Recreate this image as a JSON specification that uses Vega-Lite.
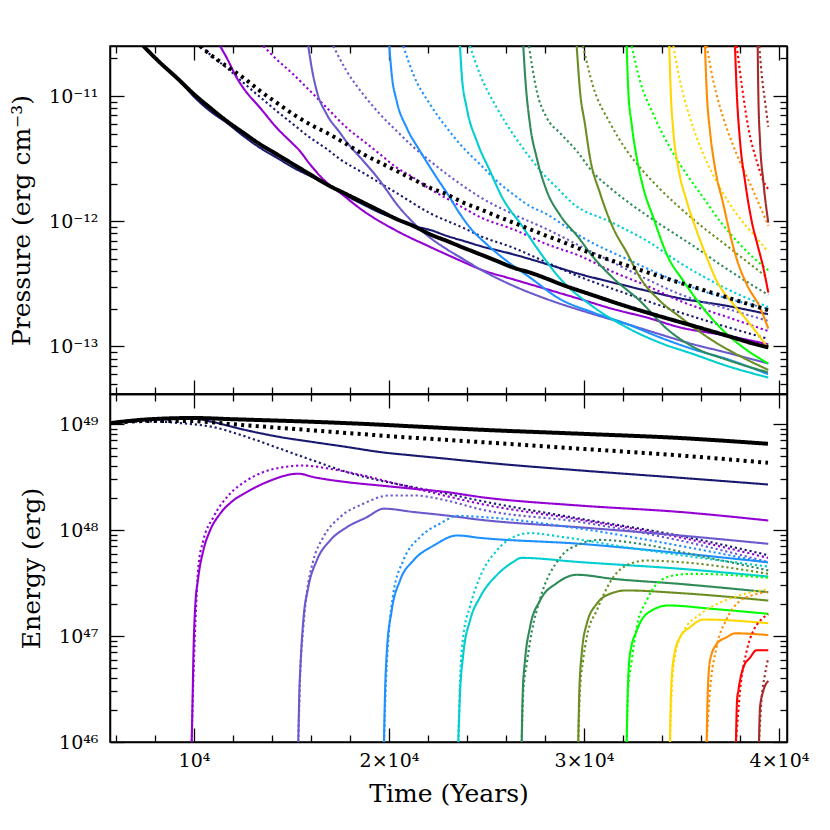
{
"$schema": "https://vega.github.io/schema/vega-lite/v6.json",
"background": "white",
"padding": {"left": 8, "top": 44, "right": 5, "bottom": 5},
"spacing": 0,
"bounds": "flush",
"config": {
 "view": {"stroke": "black", "strokeWidth": 1.5},
 "axis": {"domainColor": "black", "domainWidth": 1.5, "tickColor": "black", "tickWidth": 1.3, "labelFont": "DejaVu Serif", "titleFont": "DejaVu Serif", "labelColor": "black", "titleColor": "black", "labelFontSize": 19, "titleFontSize": 25, "titleFontWeight": "normal", "grid": false, "labelOverlap": false, "labelFlush": false, "labelBound": false}
},
"datasets": {
"pressure": [
{"s":"1","r":"a","t":7400,"v":2.51e-11},{"s":"1","r":"a","t":8256,"v":1.85e-11},{"s":"1","r":"a","t":9113,"v":1.40e-11},{"s":"1","r":"a","t":10015,"v":9.82e-12},{"s":"1","r":"a","t":10820,"v":7.59e-12},{"s":"1","r":"a","t":11677,"v":6.12e-12},{"s":"1","r":"a","t":12528,"v":4.80e-12},{"s":"1","r":"a","t":13384,"v":3.86e-12},{"s":"1","r":"a","t":14241,"v":3.22e-12},{"s":"1","r":"a","t":15092,"v":2.68e-12},{"s":"1","r":"a","t":15948,"v":2.30e-12},{"s":"1","r":"a","t":16805,"v":1.97e-12},{"s":"1","r":"a","t":17830,"v":1.59e-12},{"s":"1","r":"a","t":18682,"v":1.36e-12},{"s":"1","r":"a","t":19538,"v":1.17e-12},{"s":"1","r":"a","t":20394,"v":1.04e-12},{"s":"1","r":"a","t":21246,"v":9.18e-13},{"s":"1","r":"a","t":22102,"v":8.53e-13},{"s":"1","r":"a","t":22959,"v":7.64e-13},{"s":"1","r":"a","t":23810,"v":6.97e-13},{"s":"1","r":"a","t":24666,"v":6.35e-13},{"s":"1","r":"a","t":26358,"v":5.45e-13},{"s":"1","r":"a","t":28102,"v":4.54e-13},{"s":"1","r":"a","t":29794,"v":3.78e-13},{"s":"1","r":"a","t":31487,"v":3.24e-13},{"s":"1","r":"a","t":33230,"v":2.78e-13},{"s":"1","r":"a","t":34923,"v":2.42e-13},{"s":"1","r":"a","t":37333,"v":2.11e-13},{"s":"1","r":"a","t":39434,"v":1.81e-13},
{"s":"1","r":"b","t":10395,"v":2.51e-11},{"s":"1","r":"b","t":10820,"v":2.15e-11},{"s":"1","r":"b","t":11677,"v":1.68e-11},{"s":"1","r":"b","t":12528,"v":1.28e-11},{"s":"1","r":"b","t":13384,"v":9.82e-12},{"s":"1","r":"b","t":14241,"v":7.59e-12},{"s":"1","r":"b","t":15092,"v":5.94e-12},{"s":"1","r":"b","t":15948,"v":4.65e-12},{"s":"1","r":"b","t":16805,"v":3.78e-12},{"s":"1","r":"b","t":17487,"v":3.13e-12},{"s":"1","r":"b","t":18682,"v":2.43e-12},{"s":"1","r":"b","t":20394,"v":1.68e-12},{"s":"1","r":"b","t":22102,"v":1.16e-12},{"s":"1","r":"b","t":23810,"v":8.85e-13},{"s":"1","r":"b","t":24666,"v":7.64e-13},{"s":"1","r":"b","t":26358,"v":6.15e-13},{"s":"1","r":"b","t":28102,"v":4.68e-13},{"s":"1","r":"b","t":29794,"v":3.59e-13},{"s":"1","r":"b","t":31487,"v":2.88e-13},{"s":"1","r":"b","t":33230,"v":2.31e-13},{"s":"1","r":"b","t":34923,"v":1.87e-13},{"s":"1","r":"b","t":37333,"v":1.43e-13},{"s":"1","r":"b","t":39434,"v":1.15e-13},
{"s":"2","r":"a","t":11333,"v":2.51e-11},{"s":"2","r":"a","t":11677,"v":2.02e-11},{"s":"2","r":"a","t":12190,"v":1.40e-11},{"s":"2","r":"a","t":12528,"v":1.16e-11},{"s":"2","r":"a","t":13384,"v":8.07e-12},{"s":"2","r":"a","t":14241,"v":5.58e-12},{"s":"2","r":"a","t":15092,"v":4.12e-12},{"s":"2","r":"a","t":15349,"v":3.76e-12},{"s":"2","r":"a","t":15948,"v":2.85e-12},{"s":"2","r":"a","t":16631,"v":2.16e-12},{"s":"2","r":"a","t":17487,"v":1.69e-12},{"s":"2","r":"a","t":18682,"v":1.21e-12},{"s":"2","r":"a","t":20394,"v":8.38e-13},{"s":"2","r":"a","t":22102,"v":6.24e-13},{"s":"2","r":"a","t":23810,"v":4.73e-13},{"s":"2","r":"a","t":24666,"v":4.14e-13},{"s":"2","r":"a","t":26358,"v":3.44e-13},{"s":"2","r":"a","t":28102,"v":2.86e-13},{"s":"2","r":"a","t":29794,"v":2.39e-13},{"s":"2","r":"a","t":31487,"v":1.99e-13},{"s":"2","r":"a","t":33230,"v":1.70e-13},{"s":"2","r":"a","t":34923,"v":1.42e-13},{"s":"2","r":"a","t":37318,"v":1.22e-13},{"s":"2","r":"a","t":39451,"v":1.04e-13},
{"s":"2","r":"b","t":13554,"v":2.51e-11},{"s":"2","r":"b","t":14241,"v":1.96e-11},{"s":"2","r":"b","t":15092,"v":1.49e-11},{"s":"2","r":"b","t":15948,"v":1.10e-11},{"s":"2","r":"b","t":16805,"v":8.07e-12},{"s":"2","r":"b","t":17830,"v":5.58e-12},{"s":"2","r":"b","t":18682,"v":4.38e-12},{"s":"2","r":"b","t":19538,"v":3.43e-12},{"s":"2","r":"b","t":20394,"v":2.68e-12},{"s":"2","r":"b","t":21246,"v":2.23e-12},{"s":"2","r":"b","t":22102,"v":1.81e-12},{"s":"2","r":"b","t":22959,"v":1.52e-12},{"s":"2","r":"b","t":23810,"v":1.28e-12},{"s":"2","r":"b","t":24666,"v":1.08e-12},{"s":"2","r":"b","t":26358,"v":8.63e-13},{"s":"2","r":"b","t":28102,"v":6.55e-13},{"s":"2","r":"b","t":29794,"v":5.28e-13},{"s":"2","r":"b","t":31487,"v":3.94e-13},{"s":"2","r":"b","t":33230,"v":3.05e-13},{"s":"2","r":"b","t":34923,"v":2.31e-13},{"s":"2","r":"b","t":37333,"v":1.72e-13},{"s":"2","r":"b","t":39434,"v":1.33e-13},
{"s":"3","r":"a","t":15861,"v":2.51e-11},{"s":"3","r":"a","t":16036,"v":1.68e-11},{"s":"3","r":"a","t":16292,"v":1.10e-11},{"s":"3","r":"a","t":16805,"v":7.15e-12},{"s":"3","r":"a","t":17487,"v":5.09e-12},{"s":"3","r":"a","t":17830,"v":4.30e-12},{"s":"3","r":"a","t":18682,"v":3.03e-12},{"s":"3","r":"a","t":19538,"v":2.10e-12},{"s":"3","r":"a","t":19795,"v":1.85e-12},{"s":"3","r":"a","t":20394,"v":1.37e-12},{"s":"3","r":"a","t":21246,"v":9.75e-13},{"s":"3","r":"a","t":22102,"v":7.40e-13},{"s":"3","r":"a","t":22959,"v":5.98e-13},{"s":"3","r":"a","t":23810,"v":4.98e-13},{"s":"3","r":"a","t":24666,"v":4.14e-13},{"s":"3","r":"a","t":26374,"v":3.05e-13},{"s":"3","r":"a","t":28087,"v":2.39e-13},{"s":"3","r":"a","t":30477,"v":1.81e-13},{"s":"3","r":"a","t":32189,"v":1.51e-13},{"s":"3","r":"a","t":33897,"v":1.25e-13},{"s":"3","r":"a","t":35605,"v":1.04e-13},{"s":"3","r":"a","t":37318,"v":8.93e-14},{"s":"3","r":"a","t":39451,"v":7.31e-14},
{"s":"3","r":"b","t":17143,"v":2.51e-11},{"s":"3","r":"b","t":17830,"v":1.58e-11},{"s":"3","r":"b","t":18682,"v":1.03e-11},{"s":"3","r":"b","t":19538,"v":7.15e-12},{"s":"3","r":"b","t":20394,"v":5.26e-12},{"s":"3","r":"b","t":21246,"v":3.92e-12},{"s":"3","r":"b","t":22102,"v":3.03e-12},{"s":"3","r":"b","t":22959,"v":2.38e-12},{"s":"3","r":"b","t":23810,"v":1.91e-12},{"s":"3","r":"b","t":24666,"v":1.56e-12},{"s":"3","r":"b","t":26358,"v":1.14e-12},{"s":"3","r":"b","t":28102,"v":8.63e-13},{"s":"3","r":"b","t":29794,"v":6.35e-13},{"s":"3","r":"b","t":31487,"v":4.68e-13},{"s":"3","r":"b","t":33230,"v":3.44e-13},{"s":"3","r":"b","t":34923,"v":2.61e-13},{"s":"3","r":"b","t":37333,"v":2.00e-13},{"s":"3","r":"b","t":39434,"v":1.60e-13},
{"s":"4","r":"a","t":20015,"v":2.51e-11},{"s":"4","r":"a","t":20138,"v":1.49e-11},{"s":"4","r":"a","t":20394,"v":9.12e-12},{"s":"4","r":"a","t":20907,"v":5.58e-12},{"s":"4","r":"a","t":21589,"v":3.64e-12},{"s":"4","r":"a","t":22446,"v":2.23e-12},{"s":"4","r":"a","t":23128,"v":1.54e-12},{"s":"4","r":"a","t":23538,"v":1.21e-12},{"s":"4","r":"a","t":24153,"v":8.89e-13},{"s":"4","r":"a","t":25010,"v":6.55e-13},{"s":"4","r":"a","t":26035,"v":4.82e-13},{"s":"4","r":"a","t":27230,"v":3.55e-13},{"s":"4","r":"a","t":28769,"v":2.39e-13},{"s":"4","r":"a","t":30462,"v":1.87e-13},{"s":"4","r":"a","t":32205,"v":1.51e-13},{"s":"4","r":"a","t":33897,"v":1.18e-13},{"s":"4","r":"a","t":35589,"v":9.51e-14},{"s":"4","r":"a","t":37333,"v":7.92e-14},{"s":"4","r":"a","t":39434,"v":6.01e-14},
{"s":"4","r":"b","t":20733,"v":2.51e-11},{"s":"4","r":"b","t":21246,"v":1.49e-11},{"s":"4","r":"b","t":22102,"v":8.59e-12},{"s":"4","r":"b","t":22959,"v":5.58e-12},{"s":"4","r":"b","t":23810,"v":3.86e-12},{"s":"4","r":"b","t":24666,"v":2.85e-12},{"s":"4","r":"b","t":25523,"v":2.10e-12},{"s":"4","r":"b","t":26374,"v":1.64e-12},{"s":"4","r":"b","t":27230,"v":1.32e-12},{"s":"4","r":"b","t":28087,"v":1.14e-12},{"s":"4","r":"b","t":28769,"v":9.75e-13},{"s":"4","r":"b","t":29794,"v":7.64e-13},{"s":"4","r":"b","t":32205,"v":4.98e-13},{"s":"4","r":"b","t":35589,"v":2.95e-13},{"s":"4","r":"b","t":39434,"v":2.00e-13},
{"s":"5","r":"a","t":23641,"v":2.51e-11},{"s":"5","r":"a","t":23728,"v":1.49e-11},{"s":"5","r":"a","t":23984,"v":8.07e-12},{"s":"5","r":"a","t":24497,"v":4.38e-12},{"s":"5","r":"a","t":25179,"v":2.52e-12},{"s":"5","r":"a","t":25794,"v":1.56e-12},{"s":"5","r":"a","t":26820,"v":9.18e-13},{"s":"5","r":"a","t":27574,"v":6.15e-13},{"s":"5","r":"a","t":28769,"v":3.49e-13},{"s":"5","r":"a","t":30477,"v":2.07e-13},{"s":"5","r":"a","t":32189,"v":1.42e-13},{"s":"5","r":"a","t":33897,"v":1.07e-13},{"s":"5","r":"a","t":35605,"v":8.69e-14},{"s":"5","r":"a","t":37318,"v":7.00e-14},{"s":"5","r":"a","t":39451,"v":5.65e-14},
{"s":"5","r":"b","t":24154,"v":2.51e-11},{"s":"5","r":"b","t":24666,"v":1.49e-11},{"s":"5","r":"b","t":25523,"v":8.07e-12},{"s":"5","r":"b","t":26374,"v":4.94e-12},{"s":"5","r":"b","t":27230,"v":3.22e-12},{"s":"5","r":"b","t":28087,"v":2.23e-12},{"s":"5","r":"b","t":28769,"v":1.75e-12},{"s":"5","r":"b","t":29282,"v":1.45e-12},{"s":"5","r":"b","t":31487,"v":9.68e-13},{"s":"5","r":"b","t":33230,"v":6.97e-13},{"s":"5","r":"b","t":34923,"v":4.65e-13},{"s":"5","r":"b","t":37333,"v":2.88e-13},{"s":"5","r":"b","t":39434,"v":2.07e-13},
{"s":"6","r":"a","t":26887,"v":2.51e-11},{"s":"6","r":"a","t":26974,"v":1.49e-11},{"s":"6","r":"a","t":27230,"v":5.94e-12},{"s":"6","r":"a","t":27574,"v":3.22e-12},{"s":"6","r":"a","t":28087,"v":1.75e-12},{"s":"6","r":"a","t":28769,"v":1.12e-12},{"s":"6","r":"a","t":29692,"v":7.50e-13},{"s":"6","r":"a","t":30462,"v":5.19e-13},{"s":"6","r":"a","t":31487,"v":3.52e-13},{"s":"6","r":"a","t":32872,"v":2.31e-13},{"s":"6","r":"a","t":34256,"v":1.38e-13},{"s":"6","r":"a","t":35589,"v":9.93e-14},{"s":"6","r":"a","t":37333,"v":7.82e-14},{"s":"6","r":"a","t":39434,"v":6.21e-14},
{"s":"6","r":"b","t":27179,"v":2.51e-11},{"s":"6","r":"b","t":27574,"v":1.10e-11},{"s":"6","r":"b","t":28087,"v":6.71e-12},{"s":"6","r":"b","t":28769,"v":5.07e-12},{"s":"6","r":"b","t":29625,"v":3.64e-12},{"s":"6","r":"b","t":30477,"v":2.44e-12},{"s":"6","r":"b","t":31333,"v":1.85e-12},{"s":"6","r":"b","t":32189,"v":1.45e-12},{"s":"6","r":"b","t":33897,"v":9.46e-13},{"s":"6","r":"b","t":35605,"v":6.35e-13},{"s":"6","r":"b","t":37318,"v":4.16e-13},{"s":"6","r":"b","t":39451,"v":2.58e-13},
{"s":"7","r":"a","t":29625,"v":2.51e-11},{"s":"7","r":"a","t":29794,"v":1.10e-11},{"s":"7","r":"a","t":30051,"v":5.94e-12},{"s":"7","r":"a","t":30307,"v":3.22e-12},{"s":"7","r":"a","t":30820,"v":1.68e-12},{"s":"7","r":"a","t":31487,"v":8.89e-13},{"s":"7","r":"a","t":32205,"v":5.58e-13},{"s":"7","r":"a","t":32872,"v":3.55e-13},{"s":"7","r":"a","t":33897,"v":2.31e-13},{"s":"7","r":"a","t":34923,"v":1.72e-13},{"s":"7","r":"a","t":36461,"v":1.15e-13},{"s":"7","r":"a","t":38169,"v":8.11e-14},{"s":"7","r":"a","t":39451,"v":6.50e-14},
{"s":"7","r":"b","t":29949,"v":2.51e-11},{"s":"7","r":"b","t":30462,"v":1.20e-11},{"s":"7","r":"b","t":31333,"v":6.09e-12},{"s":"7","r":"b","t":32205,"v":3.64e-12},{"s":"7","r":"b","t":33025,"v":2.52e-12},{"s":"7","r":"b","t":33897,"v":1.81e-12},{"s":"7","r":"b","t":35589,"v":1.04e-12},{"s":"7","r":"b","t":37333,"v":6.35e-13},{"s":"7","r":"b","t":39434,"v":3.52e-13},
{"s":"8","r":"a","t":32189,"v":2.51e-11},{"s":"8","r":"a","t":32271,"v":1.10e-11},{"s":"8","r":"a","t":32446,"v":5.94e-12},{"s":"8","r":"a","t":32702,"v":3.22e-12},{"s":"8","r":"a","t":33041,"v":1.85e-12},{"s":"8","r":"a","t":33554,"v":1.07e-12},{"s":"8","r":"a","t":34307,"v":5.19e-13},{"s":"8","r":"a","t":35092,"v":3.34e-13},{"s":"8","r":"a","t":35948,"v":2.18e-13},{"s":"8","r":"a","t":36973,"v":1.42e-13},{"s":"8","r":"a","t":38169,"v":9.80e-14},{"s":"8","r":"a","t":39451,"v":7.31e-14},
{"s":"8","r":"b","t":32446,"v":2.51e-11},{"s":"8","r":"b","t":32872,"v":1.32e-11},{"s":"8","r":"b","t":33554,"v":7.15e-12},{"s":"8","r":"b","t":34410,"v":3.86e-12},{"s":"8","r":"b","t":35266,"v":2.37e-12},{"s":"8","r":"b","t":36118,"v":1.54e-12},{"s":"8","r":"b","t":36974,"v":1.00e-12},{"s":"8","r":"b","t":37831,"v":6.97e-13},{"s":"8","r":"b","t":38682,"v":5.12e-13},{"s":"8","r":"b","t":39451,"v":4.06e-13},
{"s":"9","r":"a","t":34374,"v":2.51e-11},{"s":"9","r":"a","t":34446,"v":1.10e-11},{"s":"9","r":"a","t":34579,"v":5.26e-12},{"s":"9","r":"a","t":34836,"v":2.68e-12},{"s":"9","r":"a","t":35266,"v":1.45e-12},{"s":"9","r":"a","t":35779,"v":8.37e-13},{"s":"9","r":"a","t":36205,"v":5.58e-13},{"s":"9","r":"a","t":36805,"v":3.34e-13},{"s":"9","r":"a","t":37656,"v":2.18e-13},{"s":"9","r":"a","t":38512,"v":1.51e-13},{"s":"9","r":"a","t":39451,"v":9.66e-14},
{"s":"9","r":"b","t":34579,"v":2.51e-11},{"s":"9","r":"b","t":34923,"v":1.32e-11},{"s":"9","r":"b","t":35435,"v":6.71e-12},{"s":"9","r":"b","t":36118,"v":3.43e-12},{"s":"9","r":"b","t":36974,"v":1.85e-12},{"s":"9","r":"b","t":37831,"v":1.14e-12},{"s":"9","r":"b","t":38682,"v":7.87e-13},{"s":"9","r":"b","t":39451,"v":5.71e-13},
{"s":"10","r":"a","t":36204,"v":2.51e-11},{"s":"10","r":"a","t":36291,"v":1.10e-11},{"s":"10","r":"a","t":36460,"v":5.26e-12},{"s":"10","r":"a","t":36717,"v":2.68e-12},{"s":"10","r":"a","t":37143,"v":1.37e-12},{"s":"10","r":"a","t":37573,"v":6.97e-13},{"s":"10","r":"a","t":37830,"v":5.00e-13},{"s":"10","r":"a","t":38343,"v":3.14e-13},{"s":"10","r":"a","t":39025,"v":2.04e-13},{"s":"10","r":"a","t":39451,"v":1.39e-13},
{"s":"10","r":"b","t":36291,"v":2.51e-11},{"s":"10","r":"b","t":36630,"v":1.32e-11},{"s":"10","r":"b","t":37143,"v":6.71e-12},{"s":"10","r":"b","t":37830,"v":3.43e-12},{"s":"10","r":"b","t":38682,"v":1.75e-12},{"s":"10","r":"b","t":39451,"v":9.18e-13},
{"s":"11","r":"a","t":37743,"v":2.51e-11},{"s":"11","r":"a","t":37830,"v":1.10e-11},{"s":"11","r":"a","t":38000,"v":4.38e-12},{"s":"11","r":"a","t":38256,"v":2.10e-12},{"s":"11","r":"a","t":38600,"v":1.00e-12},{"s":"11","r":"a","t":38871,"v":6.71e-13},{"s":"11","r":"a","t":39195,"v":4.26e-13},{"s":"11","r":"a","t":39451,"v":2.69e-13},
{"s":"11","r":"b","t":37830,"v":2.51e-11},{"s":"11","r":"b","t":38086,"v":1.24e-11},{"s":"11","r":"b","t":38425,"v":5.58e-12},{"s":"11","r":"b","t":38856,"v":3.03e-12},{"s":"11","r":"b","t":39195,"v":2.10e-12},{"s":"11","r":"b","t":39451,"v":1.80e-12},
{"s":"12","r":"a","t":38907,"v":2.51e-11},{"s":"12","r":"a","t":38937,"v":1.10e-11},{"s":"12","r":"a","t":39025,"v":4.38e-12},{"s":"12","r":"a","t":39194,"v":2.10e-12},{"s":"12","r":"a","t":39451,"v":9.75e-13},
{"s":"12","r":"b","t":38990,"v":2.51e-11},{"s":"12","r":"b","t":39113,"v":1.49e-11},{"s":"12","r":"b","t":39282,"v":9.12e-12},{"s":"12","r":"b","t":39451,"v":5.66e-12},
{"s":"total","r":"a","t":7400,"v":2.51e-11},{"s":"total","r":"a","t":8256,"v":1.85e-11},{"s":"total","r":"a","t":9113,"v":1.40e-11},{"s":"total","r":"a","t":10015,"v":1.03e-11},{"s":"total","r":"a","t":10820,"v":8.07e-12},{"s":"total","r":"a","t":11677,"v":6.32e-12},{"s":"total","r":"a","t":12528,"v":5.09e-12},{"s":"total","r":"a","t":13385,"v":4.12e-12},{"s":"total","r":"a","t":14241,"v":3.43e-12},{"s":"total","r":"a","t":15092,"v":2.85e-12},{"s":"total","r":"a","t":15948,"v":2.37e-12},{"s":"total","r":"a","t":16805,"v":1.97e-12},{"s":"total","r":"a","t":17830,"v":1.64e-12},{"s":"total","r":"a","t":18682,"v":1.41e-12},{"s":"total","r":"a","t":19538,"v":1.21e-12},{"s":"total","r":"a","t":20394,"v":1.04e-12},{"s":"total","r":"a","t":21246,"v":9.18e-13},{"s":"total","r":"a","t":22102,"v":7.87e-13},{"s":"total","r":"a","t":22959,"v":6.97e-13},{"s":"total","r":"a","t":23810,"v":6.15e-13},{"s":"total","r":"a","t":24666,"v":5.45e-13},{"s":"total","r":"a","t":25523,"v":4.82e-13},{"s":"total","r":"a","t":26374,"v":4.26e-13},{"s":"total","r":"a","t":27230,"v":3.89e-13},{"s":"total","r":"a","t":28087,"v":3.48e-13},{"s":"total","r":"a","t":28769,"v":3.16e-13},{"s":"total","r":"a","t":30477,"v":2.56e-13},{"s":"total","r":"a","t":32189,"v":2.09e-13},{"s":"total","r":"a","t":33897,"v":1.74e-13},{"s":"total","r":"a","t":35605,"v":1.46e-13},{"s":"total","r":"a","t":37318,"v":1.22e-13},{"s":"total","r":"a","t":39025,"v":1.02e-13},{"s":"total","r":"a","t":39451,"v":9.84e-14},
{"s":"total","r":"b","t":10308,"v":2.51e-11},{"s":"total","r":"b","t":10820,"v":2.15e-11},{"s":"total","r":"b","t":11677,"v":1.73e-11},{"s":"total","r":"b","t":12528,"v":1.40e-11},{"s":"total","r":"b","t":13384,"v":1.10e-11},{"s":"total","r":"b","t":14241,"v":8.84e-12},{"s":"total","r":"b","t":15092,"v":7.15e-12},{"s":"total","r":"b","t":15948,"v":5.94e-12},{"s":"total","r":"b","t":16805,"v":5.09e-12},{"s":"total","r":"b","t":17830,"v":4.12e-12},{"s":"total","r":"b","t":18682,"v":3.43e-12},{"s":"total","r":"b","t":19538,"v":2.94e-12},{"s":"total","r":"b","t":20394,"v":2.52e-12},{"s":"total","r":"b","t":21246,"v":2.16e-12},{"s":"total","r":"b","t":22102,"v":1.85e-12},{"s":"total","r":"b","t":22959,"v":1.64e-12},{"s":"total","r":"b","t":23810,"v":1.41e-12},{"s":"total","r":"b","t":24666,"v":1.25e-12},{"s":"total","r":"b","t":25523,"v":1.10e-12},{"s":"total","r":"b","t":26374,"v":9.75e-13},{"s":"total","r":"b","t":27230,"v":8.63e-13},{"s":"total","r":"b","t":28087,"v":7.64e-13},{"s":"total","r":"b","t":28769,"v":6.97e-13},{"s":"total","r":"b","t":30477,"v":5.45e-13},{"s":"total","r":"b","t":32189,"v":4.44e-13},{"s":"total","r":"b","t":33897,"v":3.62e-13},{"s":"total","r":"b","t":35605,"v":2.99e-13},{"s":"total","r":"b","t":37318,"v":2.47e-13},{"s":"total","r":"b","t":39025,"v":2.04e-13},{"s":"total","r":"b","t":39451,"v":1.95e-13}
],
"energy": [
{"s":"1","r":"a","t":5692,"v":1.02e49},{"s":"1","r":"a","t":7744,"v":1.10e49},{"s":"1","r":"a","t":10000,"v":1.12e49},{"s":"1","r":"a","t":11000,"v":1.04e49},{"s":"1","r":"a","t":12718,"v":8.71e48},{"s":"1","r":"a","t":14410,"v":7.54e48},{"s":"1","r":"a","t":16102,"v":6.76e48},{"s":"1","r":"a","t":17846,"v":6.07e48},{"s":"1","r":"a","t":19538,"v":5.44e48},{"s":"1","r":"a","t":21230,"v":5.05e48},{"s":"1","r":"a","t":22974,"v":4.70e48},{"s":"1","r":"a","t":24666,"v":4.37e48},{"s":"1","r":"a","t":29794,"v":3.65e48},{"s":"1","r":"a","t":34923,"v":3.11e48},{"s":"1","r":"a","t":39434,"v":2.69e48},
{"s":"1","r":"b","t":5692,"v":1.02e49},{"s":"1","r":"b","t":7744,"v":1.06e49},{"s":"1","r":"b","t":9282,"v":1.02e49},{"s":"1","r":"b","t":10974,"v":9.37e48},{"s":"1","r":"b","t":12718,"v":7.54e48},{"s":"1","r":"b","t":14410,"v":5.85e48},{"s":"1","r":"b","t":16102,"v":4.53e48},{"s":"1","r":"b","t":17846,"v":3.52e48},{"s":"1","r":"b","t":19538,"v":2.93e48},{"s":"1","r":"b","t":21230,"v":2.54e48},{"s":"1","r":"b","t":22974,"v":2.20e48},{"s":"1","r":"b","t":24666,"v":1.89e48},{"s":"1","r":"b","t":29794,"v":1.28e48},{"s":"1","r":"b","t":34923,"v":8.82e47},{"s":"1","r":"b","t":39434,"v":5.80e47},
{"s":"2","r":"a","t":9882,"v":1e46},{"s":"2","r":"a","t":9933,"v":2.84e46},{"s":"2","r":"a","t":9964,"v":5.86e46},{"s":"2","r":"a","t":10051,"v":1.74e47},{"s":"2","r":"a","t":10221,"v":3.59e47},{"s":"2","r":"a","t":10477,"v":6.40e47},{"s":"2","r":"a","t":10820,"v":9.88e47},{"s":"2","r":"a","t":11333,"v":1.42e48},{"s":"2","r":"a","t":12015,"v":1.90e48},{"s":"2","r":"a","t":12703,"v":2.28e48},{"s":"2","r":"a","t":13728,"v":2.83e48},{"s":"2","r":"a","t":15349,"v":3.40e48},{"s":"2","r":"a","t":16118,"v":3.16e48},{"s":"2","r":"a","t":17830,"v":2.83e48},{"s":"2","r":"a","t":19538,"v":2.63e48},{"s":"2","r":"a","t":21246,"v":2.45e48},{"s":"2","r":"a","t":22959,"v":2.28e48},{"s":"2","r":"a","t":24666,"v":2.05e48},{"s":"2","r":"a","t":29794,"v":1.70e48},{"s":"2","r":"a","t":34923,"v":1.48e48},{"s":"2","r":"a","t":39451,"v":1.23e48},
{"s":"2","r":"b","t":9882,"v":1e46},{"s":"2","r":"b","t":9964,"v":3.78e46},{"s":"2","r":"b","t":10077,"v":1.39e47},{"s":"2","r":"b","t":10221,"v":4.47e47},{"s":"2","r":"b","t":10477,"v":7.96e47},{"s":"2","r":"b","t":10990,"v":1.32e48},{"s":"2","r":"b","t":11846,"v":2.20e48},{"s":"2","r":"b","t":12703,"v":2.93e48},{"s":"2","r":"b","t":13554,"v":3.52e48},{"s":"2","r":"b","t":14410,"v":3.87e48},{"s":"2","r":"b","t":15605,"v":4.06e48},{"s":"2","r":"b","t":16974,"v":3.78e48},{"s":"2","r":"b","t":18682,"v":3.27e48},{"s":"2","r":"b","t":20394,"v":2.73e48},{"s":"2","r":"b","t":22102,"v":2.28e48},{"s":"2","r":"b","t":24666,"v":1.77e48},{"s":"2","r":"b","t":29794,"v":1.25e48},{"s":"2","r":"b","t":34923,"v":8.50e47},{"s":"2","r":"b","t":39434,"v":5.46e47},
{"s":"3","r":"a","t":15349,"v":1e46},{"s":"3","r":"a","t":15400,"v":2.84e46},{"s":"3","r":"a","t":15472,"v":5.86e46},{"s":"3","r":"a","t":15605,"v":1.40e47},{"s":"3","r":"a","t":15861,"v":2.89e47},{"s":"3","r":"a","t":16292,"v":5.15e47},{"s":"3","r":"a","t":16974,"v":7.96e47},{"s":"3","r":"a","t":17830,"v":1.06e48},{"s":"3","r":"a","t":18856,"v":1.32e48},{"s":"3","r":"a","t":19743,"v":1.59e48},{"s":"3","r":"a","t":21246,"v":1.48e48},{"s":"3","r":"a","t":22959,"v":1.37e48},{"s":"3","r":"a","t":24666,"v":1.25e48},{"s":"3","r":"a","t":29794,"v":1.06e48},{"s":"3","r":"a","t":34923,"v":8.88e47},{"s":"3","r":"a","t":39451,"v":7.41e47},
{"s":"3","r":"b","t":15349,"v":1e46},{"s":"3","r":"b","t":15436,"v":3.78e46},{"s":"3","r":"b","t":15605,"v":1.21e47},{"s":"3","r":"b","t":15779,"v":2.50e47},{"s":"3","r":"b","t":16118,"v":5.15e47},{"s":"3","r":"b","t":16631,"v":8.57e47},{"s":"3","r":"b","t":17487,"v":1.32e48},{"s":"3","r":"b","t":18682,"v":1.77e48},{"s":"3","r":"b","t":20051,"v":2.12e48},{"s":"3","r":"b","t":21246,"v":2.12e48},{"s":"3","r":"b","t":22959,"v":1.90e48},{"s":"3","r":"b","t":24666,"v":1.57e48},{"s":"3","r":"b","t":29794,"v":1.19e48},{"s":"3","r":"b","t":34923,"v":7.96e47},{"s":"3","r":"b","t":39451,"v":4.98e47},
{"s":"4","r":"a","t":19743,"v":1e46},{"s":"4","r":"a","t":19795,"v":2.84e46},{"s":"4","r":"a","t":19882,"v":6.78e46},{"s":"4","r":"a","t":20138,"v":1.74e47},{"s":"4","r":"a","t":20564,"v":3.34e47},{"s":"4","r":"a","t":21246,"v":5.15e47},{"s":"4","r":"a","t":22272,"v":7.10e47},{"s":"4","r":"a","t":23502,"v":8.88e47},{"s":"4","r":"a","t":24666,"v":8.43e47},{"s":"4","r":"a","t":29794,"v":7.41e47},{"s":"4","r":"a","t":34923,"v":6.05e47},{"s":"4","r":"a","t":39434,"v":4.96e47},
{"s":"4","r":"b","t":19743,"v":1e46},{"s":"4","r":"b","t":19846,"v":3.78e46},{"s":"4","r":"b","t":19999,"v":1.12e47},{"s":"4","r":"b","t":20220,"v":2.50e47},{"s":"4","r":"b","t":20733,"v":5.15e47},{"s":"4","r":"b","t":21589,"v":8.57e47},{"s":"4","r":"b","t":22615,"v":1.15e48},{"s":"4","r":"b","t":23538,"v":1.36e48},{"s":"4","r":"b","t":24666,"v":1.33e48},{"s":"4","r":"b","t":29794,"v":1.03e48},{"s":"4","r":"b","t":34923,"v":7.09e47},{"s":"4","r":"b","t":39434,"v":4.90e47},
{"s":"5","r":"a","t":23554,"v":1e46},{"s":"5","r":"a","t":23641,"v":2.84e46},{"s":"5","r":"a","t":23810,"v":6.78e46},{"s":"5","r":"a","t":24153,"v":1.40e47},{"s":"5","r":"a","t":24666,"v":2.32e47},{"s":"5","r":"a","t":25523,"v":3.75e47},{"s":"5","r":"a","t":26374,"v":5.0e47},{"s":"5","r":"a","t":26769,"v":5.46e47},{"s":"5","r":"a","t":29794,"v":4.98e47},{"s":"5","r":"a","t":34923,"v":4.31e47},{"s":"5","r":"a","t":39451,"v":3.64e47},
{"s":"5","r":"b","t":23554,"v":1e46},{"s":"5","r":"b","t":23641,"v":3.78e46},{"s":"5","r":"b","t":23810,"v":1.00e47},{"s":"5","r":"b","t":24153,"v":1.90e47},{"s":"5","r":"b","t":24666,"v":3.61e47},{"s":"5","r":"b","t":25523,"v":6.40e47},{"s":"5","r":"b","t":26374,"v":8.57e47},{"s":"5","r":"b","t":27230,"v":9.35e47},{"s":"5","r":"b","t":28938,"v":8.57e47},{"s":"5","r":"b","t":32359,"v":6.79e47},{"s":"5","r":"b","t":35948,"v":5.47e47},{"s":"5","r":"b","t":39451,"v":4.52e47},
{"s":"6","r":"a","t":26805,"v":1e46},{"s":"6","r":"a","t":26856,"v":2.84e46},{"s":"6","r":"a","t":26974,"v":5.86e46},{"s":"6","r":"a","t":27230,"v":1.21e47},{"s":"6","r":"a","t":27743,"v":2.16e47},{"s":"6","r":"a","t":28599,"v":3.15e47},{"s":"6","r":"a","t":29625,"v":3.78e47},{"s":"6","r":"a","t":31502,"v":3.46e47},{"s":"6","r":"a","t":34923,"v":3.10e47},{"s":"6","r":"a","t":39451,"v":2.59e47},
{"s":"6","r":"b","t":26805,"v":1e46},{"s":"6","r":"b","t":26887,"v":3.02e46},{"s":"6","r":"b","t":27061,"v":5.42e46},{"s":"6","r":"b","t":27333,"v":1.12e47},{"s":"6","r":"b","t":27743,"v":2.24e47},{"s":"6","r":"b","t":28769,"v":5.47e47},{"s":"6","r":"b","t":29794,"v":7.36e47},{"s":"6","r":"b","t":30820,"v":8.07e47},{"s":"6","r":"b","t":32872,"v":7.41e47},{"s":"6","r":"b","t":35948,"v":5.70e47},{"s":"6","r":"b","t":39451,"v":4.16e47},
{"s":"7","r":"a","t":29705,"v":1e46},{"s":"7","r":"a","t":29756,"v":2.84e46},{"s":"7","r":"a","t":29881,"v":6.78e46},{"s":"7","r":"a","t":30138,"v":1.30e47},{"s":"7","r":"a","t":30651,"v":2.01e47},{"s":"7","r":"a","t":31333,"v":2.50e47},{"s":"7","r":"a","t":32153,"v":2.69e47},{"s":"7","r":"a","t":34923,"v":2.54e47},{"s":"7","r":"a","t":39451,"v":2.16e47},
{"s":"7","r":"b","t":29705,"v":1e46},{"s":"7","r":"b","t":29794,"v":3.02e46},{"s":"7","r":"b","t":29948,"v":5.79e46},{"s":"7","r":"b","t":30153,"v":1.00e47},{"s":"7","r":"b","t":30651,"v":1.74e47},{"s":"7","r":"b","t":31502,"v":3.59e47},{"s":"7","r":"b","t":32359,"v":4.80e47},{"s":"7","r":"b","t":33215,"v":5.15e47},{"s":"7","r":"b","t":34923,"v":4.98e47},{"s":"7","r":"b","t":39451,"v":3.86e47},
{"s":"8","r":"a","t":32189,"v":1e46},{"s":"8","r":"a","t":32240,"v":2.84e46},{"s":"8","r":"a","t":32359,"v":6.78e46},{"s":"8","r":"a","t":32702,"v":1.12e47},{"s":"8","r":"a","t":33215,"v":1.62e47},{"s":"8","r":"a","t":34323,"v":1.94e47},{"s":"8","r":"a","t":36630,"v":1.80e47},{"s":"8","r":"a","t":39451,"v":1.62e47},
{"s":"8","r":"b","t":32189,"v":1e46},{"s":"8","r":"b","t":32256,"v":3.02e46},{"s":"8","r":"b","t":32446,"v":5.82e46},{"s":"8","r":"b","t":32702,"v":1.21e47},{"s":"8","r":"b","t":33215,"v":2.16e47},{"s":"8","r":"b","t":33728,"v":3.10e47},{"s":"8","r":"b","t":34579,"v":3.72e47},{"s":"8","r":"b","t":35605,"v":3.86e47},{"s":"8","r":"b","t":39451,"v":3.54e47},
{"s":"9","r":"a","t":34410,"v":1e46},{"s":"9","r":"a","t":34461,"v":2.84e46},{"s":"9","r":"a","t":34579,"v":5.86e46},{"s":"9","r":"a","t":34923,"v":9.75e46},{"s":"9","r":"a","t":35435,"v":1.21e47},{"s":"9","r":"a","t":36118,"v":1.43e47},{"s":"9","r":"a","t":39451,"v":1.32e47},
{"s":"9","r":"b","t":34410,"v":1e46},{"s":"9","r":"b","t":34500,"v":3.0e46},{"s":"9","r":"b","t":34666,"v":6.5e46},{"s":"9","r":"b","t":35092,"v":1.1e47},{"s":"9","r":"b","t":35948,"v":1.6e47},{"s":"9","r":"b","t":36805,"v":2.0e47},{"s":"9","r":"b","t":37656,"v":2.31e47},{"s":"9","r":"b","t":38512,"v":2.57e47},{"s":"9","r":"b","t":39451,"v":2.76e47},
{"s":"10","r":"a","t":36291,"v":1e46},{"s":"10","r":"a","t":36343,"v":2.84e46},{"s":"10","r":"a","t":36460,"v":5.86e46},{"s":"10","r":"a","t":36804,"v":8.42e46},{"s":"10","r":"a","t":37317,"v":9.75e46},{"s":"10","r":"a","t":37743,"v":1.06e47},{"s":"10","r":"a","t":39451,"v":1.02e47},
{"s":"10","r":"b","t":36291,"v":1e46},{"s":"10","r":"b","t":36460,"v":3.03e46},{"s":"10","r":"b","t":36804,"v":7.89e46},{"s":"10","r":"b","t":37317,"v":1.45e47},{"s":"10","r":"b","t":37912,"v":2.08e47},{"s":"10","r":"b","t":38682,"v":2.44e47},{"s":"10","r":"b","t":39451,"v":2.61e47},
{"s":"11","r":"a","t":37794,"v":1e46},{"s":"11","r":"a","t":37846,"v":2.44e46},{"s":"11","r":"a","t":37912,"v":3.03e46},{"s":"11","r":"a","t":38169,"v":5.04e46},{"s":"11","r":"a","t":38512,"v":6.25e46},{"s":"11","r":"a","t":38856,"v":7.35e46},{"s":"11","r":"a","t":39451,"v":7.35e46},
{"s":"11","r":"b","t":37794,"v":1e46},{"s":"11","r":"b","t":38000,"v":3.03e46},{"s":"11","r":"b","t":38343,"v":7.23e46},{"s":"11","r":"b","t":38682,"v":1.12e47},{"s":"11","r":"b","t":39024,"v":1.39e47},{"s":"11","r":"b","t":39451,"v":1.61e47},
{"s":"12","r":"a","t":38974,"v":1e46},{"s":"12","r":"a","t":39025,"v":2.11e46},{"s":"12","r":"a","t":39194,"v":3.03e46},{"s":"12","r":"a","t":39451,"v":3.77e46},
{"s":"12","r":"b","t":38974,"v":1e46},{"s":"12","r":"b","t":39113,"v":2.62e46},{"s":"12","r":"b","t":39282,"v":4.36e46},{"s":"12","r":"b","t":39451,"v":6.25e46},
{"s":"total","r":"a","t":5692,"v":1.02e49},{"s":"total","r":"a","t":7744,"v":1.11e49},{"s":"total","r":"a","t":10000,"v":1.14e49},{"s":"total","r":"a","t":12000,"v":1.11e49},{"s":"total","r":"a","t":15436,"v":1.06e49},{"s":"total","r":"a","t":18872,"v":1.00e49},{"s":"total","r":"a","t":21590,"v":9.43e48},{"s":"total","r":"a","t":24666,"v":8.84e48},{"s":"total","r":"a","t":29794,"v":8.10e48},{"s":"total","r":"a","t":34923,"v":7.38e48},{"s":"total","r":"a","t":39434,"v":6.51e48},
{"s":"total","r":"b","t":5692,"v":1.02e49},{"s":"total","r":"b","t":7744,"v":1.07e49},{"s":"total","r":"b","t":9436,"v":1.07e49},{"s":"total","r":"b","t":12718,"v":9.70e48},{"s":"total","r":"b","t":16102,"v":8.71e48},{"s":"total","r":"b","t":19538,"v":7.80e48},{"s":"total","r":"b","t":24666,"v":6.76e48},{"s":"total","r":"b","t":29794,"v":5.85e48},{"s":"total","r":"b","t":34923,"v":5.05e48},{"s":"total","r":"b","t":39434,"v":4.31e48}
]
},
"vconcat": [
{
 "width": 677, "height": 348,
 "data": {"name": "pressure"},
 "layer": [
  {"mark": {"type": "line", "clip": true, "interpolate": "monotone"},
   "encoding": {
    "x": {"field": "t", "type": "quantitative", "scale": {"domain": [5692, 40410], "nice": false, "zero": false},
     "axis": {"orient": "bottom", "values": [6000,8000,10000,12000,14000,16000,18000,20000,22000,24000,26000,28000,30000,32000,34000,36000,38000,40000], "labels": false, "title": null,
      "tickSize": {"condition": {"test": "datum.value % 10000 == 0", "value": -14}, "value": -7}}},
    "y": {"field": "v", "type": "quantitative", "scale": {"type": "log", "domain": [4.17e-14, 2.51e-11], "nice": false},
     "axis": {"orient": "left", "values": [5e-14,6e-14,7e-14,8e-14,9e-14,1e-13,2e-13,3e-13,4e-13,5e-13,6e-13,7e-13,8e-13,9e-13,1e-12,2e-12,3e-12,4e-12,5e-12,6e-12,7e-12,8e-12,9e-12,1e-11,2e-11],
      "title": "Pressure (erg cm⁻³)", "titlePadding": 14, "labelPadding": 26,
      "tickSize": {"condition": {"test": "datum.value == 1e-11 || datum.value == 1e-12 || datum.value == 1e-13", "value": -14}, "value": -7},
      "labelExpr": "datum.value == 1e-11 ? '10⁻¹¹' : datum.value == 1e-12 ? '10⁻¹²' : datum.value == 1e-13 ? '10⁻¹³' : ''"}},
    "color": {"field": "s", "type": "nominal", "legend": null, "scale": {"domain": ["total","1","2","3","4","5","6","7","8","9","10","11","12"], "range": ["#000000","#191970","#9400D3","#6A5ACD","#1E90FF","#00CED1","#2E8B57","#6B8E23","#00FF00","#FFD700","#FF8C00","#FF0000","#A52A2A"]}},
    "strokeDash": {"condition": {"test": "datum.s == 'total' && datum.r == 'b'", "value": [3, 4.3]}, "field": "r", "type": "nominal", "legend": null, "scale": {"domain": ["a","b"], "range": [[1,0],[2.2,2.8]]}},
    "strokeWidth": {"condition": {"test": "datum.s == 'total'", "value": 4}, "value": 2.1}
   }},
  {"mark": {"type": "line", "opacity": 0},
   "encoding": {
    "x": {"field": "t", "type": "quantitative",
     "axis": {"orient": "top", "values": [6000,8000,10000,12000,14000,16000,18000,20000,22000,24000,26000,28000,30000,32000,34000,36000,38000,40000], "labels": false, "title": null,
      "tickSize": {"condition": {"test": "datum.value % 10000 == 0", "value": -14}, "value": -7}}},
    "y": {"field": "v", "type": "quantitative",
     "axis": {"orient": "right", "values": [5e-14,6e-14,7e-14,8e-14,9e-14,1e-13,2e-13,3e-13,4e-13,5e-13,6e-13,7e-13,8e-13,9e-13,1e-12,2e-12,3e-12,4e-12,5e-12,6e-12,7e-12,8e-12,9e-12,1e-11,2e-11], "labels": false, "title": null,
      "tickSize": {"condition": {"test": "datum.value == 1e-11 || datum.value == 1e-12 || datum.value == 1e-13", "value": -14}, "value": -7}}},
    "detail": {"field": "s", "type": "nominal"}
   }}
 ],
 "resolve": {"axis": {"x": "independent", "y": "independent"}}
},
{
 "width": 677, "height": 348,
 "data": {"name": "energy"},
 "layer": [
  {"mark": {"type": "line", "clip": true, "interpolate": "monotone"},
   "encoding": {
    "x": {"field": "t", "type": "quantitative", "scale": {"domain": [5692, 40410], "nice": false, "zero": false},
     "axis": {"orient": "bottom", "values": [6000,8000,10000,12000,14000,16000,18000,20000,22000,24000,26000,28000,30000,32000,34000,36000,38000,40000],
      "title": "Time (Years)", "titlePadding": 4, "labelPadding": 23,
      "tickSize": {"condition": {"test": "datum.value % 10000 == 0", "value": -14}, "value": -7},
      "labelExpr": "datum.value == 10000 ? '10⁴' : datum.value == 20000 ? '2×10⁴' : datum.value == 30000 ? '3×10⁴' : datum.value == 40000 ? '4×10⁴' : ''"}},
    "y": {"field": "v", "type": "quantitative", "scale": {"type": "log", "domain": [1e46, 1.92e49], "nice": false},
     "axis": {"orient": "left", "values": [1e46,2e46,3e46,4e46,5e46,6e46,7e46,8e46,9e46,1e47,2e47,3e47,4e47,5e47,6e47,7e47,8e47,9e47,1e48,2e48,3e48,4e48,5e48,6e48,7e48,8e48,9e48,1e49],
      "title": "Energy (erg)", "titlePadding": 14, "labelPadding": 26,
      "tickSize": {"condition": {"test": "datum.value == 1e46 || datum.value == 1e47 || datum.value == 1e48 || datum.value == 1e49", "value": -14}, "value": -7},
      "labelExpr": "datum.value == 1e46 ? '10⁴⁶' : datum.value == 1e47 ? '10⁴⁷' : datum.value == 1e48 ? '10⁴⁸' : datum.value == 1e49 ? '10⁴⁹' : ''"}},
    "color": {"field": "s", "type": "nominal", "legend": null, "scale": {"domain": ["total","1","2","3","4","5","6","7","8","9","10","11","12"], "range": ["#000000","#191970","#9400D3","#6A5ACD","#1E90FF","#00CED1","#2E8B57","#6B8E23","#00FF00","#FFD700","#FF8C00","#FF0000","#A52A2A"]}},
    "strokeDash": {"condition": {"test": "datum.s == 'total' && datum.r == 'b'", "value": [3, 4.3]}, "field": "r", "type": "nominal", "legend": null, "scale": {"domain": ["a","b"], "range": [[1,0],[2.2,2.8]]}},
    "strokeWidth": {"condition": {"test": "datum.s == 'total'", "value": 4}, "value": 2.1}
   }},
  {"mark": {"type": "line", "opacity": 0},
   "encoding": {
    "x": {"field": "t", "type": "quantitative",
     "axis": {"orient": "top", "values": [6000,8000,10000,12000,14000,16000,18000,20000,22000,24000,26000,28000,30000,32000,34000,36000,38000,40000], "labels": false, "title": null,
      "tickSize": {"condition": {"test": "datum.value % 10000 == 0", "value": -14}, "value": -7}}},
    "y": {"field": "v", "type": "quantitative",
     "axis": {"orient": "right", "values": [1e46,2e46,3e46,4e46,5e46,6e46,7e46,8e46,9e46,1e47,2e47,3e47,4e47,5e47,6e47,7e47,8e47,9e47,1e48,2e48,3e48,4e48,5e48,6e48,7e48,8e48,9e48,1e49], "labels": false, "title": null,
      "tickSize": {"condition": {"test": "datum.value == 1e46 || datum.value == 1e47 || datum.value == 1e48 || datum.value == 1e49", "value": -14}, "value": -7}}},
    "detail": {"field": "s", "type": "nominal"}
   }}
 ],
 "resolve": {"axis": {"x": "independent", "y": "independent"}}
}
]
}
